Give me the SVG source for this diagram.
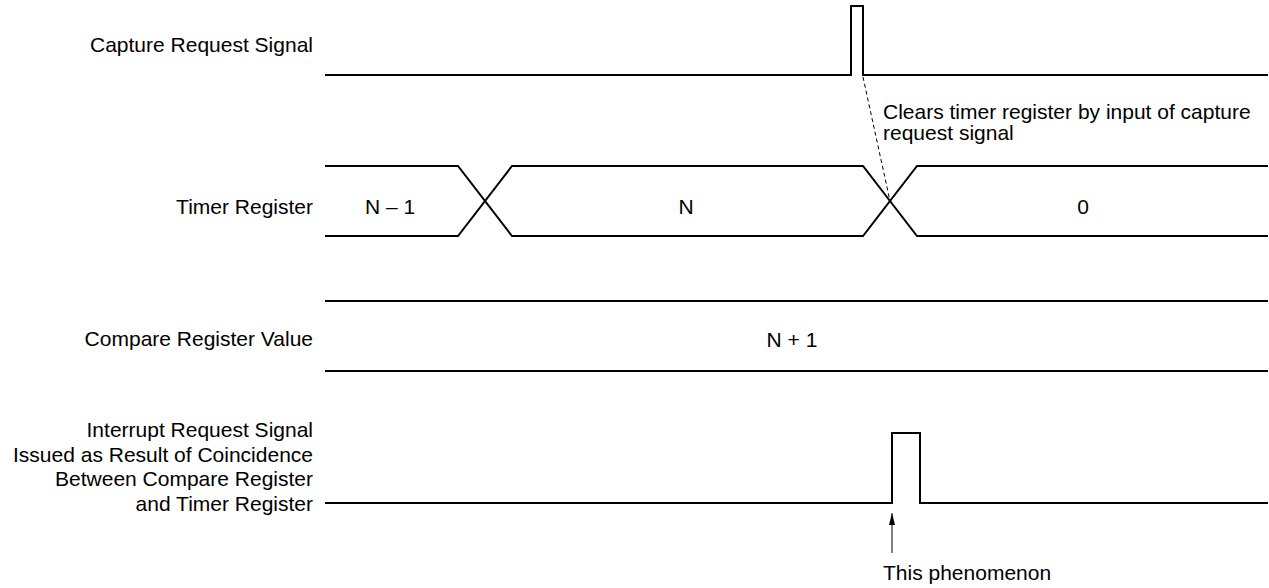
<svg xmlns="http://www.w3.org/2000/svg" width="1269" height="588" viewBox="0 0 1269 588">
<style>
text{font-family:"Liberation Sans",Arial,sans-serif;font-size:21px;fill:#000}
.lbl{text-anchor:end}
.mid{text-anchor:middle}
.w{fill:none;stroke:#000;stroke-width:2;stroke-linejoin:miter}
.d{fill:none;stroke:#000;stroke-width:1;stroke-dasharray:4,3}
</style>
<defs>
<marker id="ah" markerWidth="12" markerHeight="6" refX="12" refY="3" orient="auto" markerUnits="userSpaceOnUse" viewBox="0 0 12 6">
<path d="M0,0 L12,3 L0,6 Z" fill="#000"/>
</marker>
</defs>
<rect width="1269" height="588" fill="#fff"/>
<g id="capture">
<text class="lbl" x="313" y="52">Capture Request Signal</text>
<path class="w" d="M325,75 H851 V6 H863 V75 H1268"/>
</g>
<g id="timer">
<text class="lbl" x="313" y="214">Timer Register</text>
<path class="w" d="M325,166 H458 L512,236 H863 L917,166 H1268"/>
<path class="w" d="M325,236 H458 L512,166 H863 L917,236 H1268"/>
<text class="mid" x="390" y="214">N – 1</text>
<text class="mid" x="686" y="214">N</text>
<text class="mid" x="1083" y="214">0</text>
</g>
<g id="compare">
<text class="lbl" x="313" y="346">Compare Register Value</text>
<path class="w" d="M325,301 H1268 M325,371 H1268"/>
<text class="mid" x="792" y="347">N + 1</text>
</g>
<g id="interrupt">
<text class="lbl" x="313" y="437">Interrupt Request Signal</text>
<text class="lbl" x="313" y="461.5">Issued as Result of Coincidence</text>
<text class="lbl" x="313" y="486">Between Compare Register</text>
<text class="lbl" x="313" y="510.5">and Timer Register</text>
<path class="w" d="M325,503 H892 V433 H920 V503 H1268"/>
</g>
<g id="note-clears">
<text x="883" y="119">Clears timer register by input of capture</text>
<text x="883" y="140">request signal</text>
</g>
<g id="note-phenomenon">
<text x="883" y="580">This phenomenon</text>
</g>
<g id="connectors">
<line class="d" x1="863" y1="77" x2="890" y2="201"/>
<line x1="892" y1="553" x2="892" y2="513" stroke="#000" stroke-width="1" marker-end="url(#ah)"/>
</g>
</svg>
